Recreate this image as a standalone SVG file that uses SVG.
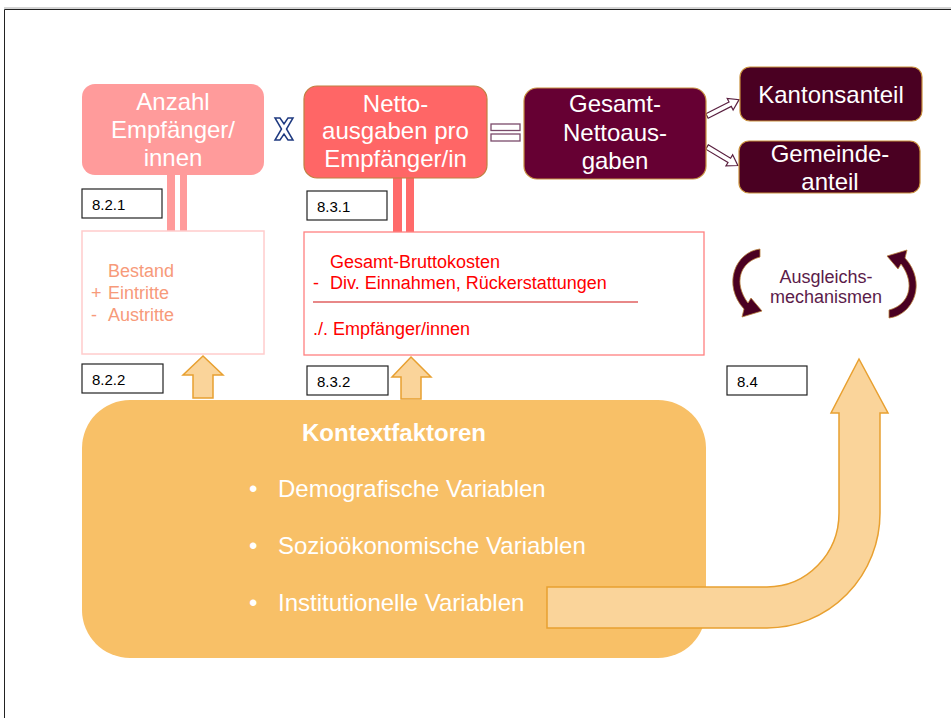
<svg xmlns="http://www.w3.org/2000/svg" width="951" height="718" viewBox="0 0 951 718">
<style>
.t{font-family:"Liberation Sans",Arial,sans-serif}
.w{fill:#fff;font-size:24px;text-anchor:middle}
.lab rect{fill:#fff;stroke:#222;stroke-width:1.2}
.lab text{font-size:15px;fill:#000}
.up{fill:#FAD49A;stroke:#E8A030;stroke-width:1.5}
.cur{fill:#4A0022;stroke:#B8803C;stroke-width:0.8}
.blk{fill:#fff;stroke:#5a2040;stroke-width:1.2}
</style>
<rect width="951" height="718" fill="#fff"/>
<line x1="4" y1="8" x2="951" y2="8" stroke="#aaa" stroke-width="1"/>
<path d="M4.5,718 V9.5 H951" fill="none" stroke="#222" stroke-width="1"/>

<g id="kontext">
<rect x="82" y="400" width="624" height="258" rx="48" ry="48" fill="#F8C067"/>
<text class="t" x="394" y="441" fill="#fff" font-size="24" font-weight="bold" text-anchor="middle">Kontextfaktoren</text>
<g class="t" fill="#fff" font-size="24">
<text x="249" y="497">•</text><text x="278" y="497">Demografische Variablen</text>
<text x="249" y="554">•</text><text x="278" y="554">Sozioökonomische Variablen</text>
<text x="249" y="611">•</text><text x="278" y="611">Institutionelle Variablen</text>
</g>
</g>

<g id="connectors">
<rect x="167" y="175" width="8" height="57" fill="#FF9B9B"/>
<rect x="180" y="175" width="7" height="57" fill="#FF9B9B"/>
<rect x="393" y="178" width="9" height="55" fill="#FF6A6A"/>
<rect x="406" y="178" width="8" height="55" fill="#FF6A6A"/>
<polygon class="up" points="203,356 223,375 213,375 213,398 193,398 193,375 183,375"/>
<polygon class="up" points="411,357 431,377 421,377 421,399 401,399 401,377 392,377"/>
<path class="up" d="M547,587 L767,587 A72,74 0 0 0 839,513 L839,413 L831,413 L859,359 L888,413 L880,413 L880,513 A113,115 0 0 1 767,628 L547,628 Z"/>
<polygon class="blk" transform="translate(707,116) rotate(-27)" points="0,-2.5 26,-2.5 26,-6.5 36,0 26,6.5 26,2.5 0,2.5"/>
<polygon class="blk" transform="translate(707,147) rotate(31)" points="0,-2.5 26,-2.5 26,-6.5 36,0 26,6.5 26,2.5 0,2.5"/>
<polygon points="275,118 280,118 284,124 288,118 293,118 286.5,129 293,140 288,140 284,134 280,140 275,140 281.5,129" fill="#fff" stroke="#1F3A80" stroke-width="1.5"/>
<rect x="491" y="124" width="29" height="6.5" fill="#fff" stroke="#7A4A6A" stroke-width="1.3"/>
<rect x="491" y="134" width="29" height="7" fill="#fff" stroke="#7A4A6A" stroke-width="1.3"/>
</g>

<g id="anzahl">
<rect x="82" y="84" width="182" height="91" rx="13" fill="#FF9B9B"/>
<text class="t w" x="173" y="110">Anzahl</text>
<text class="t w" x="173" y="138">Empfänger/</text>
<text class="t w" x="173" y="166">innen</text>
</g>

<g id="netto">
<rect x="304" y="86" width="183" height="92" rx="13" fill="#FF6666" stroke="#C08040" stroke-width="1.2"/>
<text class="t w" x="395.5" y="112">Netto-</text>
<text class="t w" x="395.5" y="139">ausgaben pro</text>
<text class="t w" x="395.5" y="167">Empfänger/in</text>
</g>

<g id="gesamt">
<rect x="524" y="88" width="182" height="91" rx="13" fill="#660033" stroke="#C89040" stroke-width="1.2"/>
<text class="t w" x="615" y="112">Gesamt-</text>
<text class="t w" x="615" y="141">Nettoaus-</text>
<text class="t w" x="615" y="169">gaben</text>
</g>

<g id="kanton">
<rect x="740" y="67" width="182" height="54" rx="10" fill="#4A0022" stroke="#C8903C" stroke-width="1.2"/>
<text class="t w" x="831" y="103">Kantonsanteil</text>
</g>

<g id="gemeinde">
<rect x="739" y="141" width="181" height="52" rx="10" fill="#4A0022" stroke="#C8903C" stroke-width="1.2"/>
<text class="t w" x="830" y="162">Gemeinde-</text>
<text class="t w" x="830" y="190">anteil</text>
</g>

<g id="bestand">
<rect x="82" y="231" width="182" height="123" fill="#fff" stroke="#FFCCCC" stroke-width="1.5"/>
<g class="t" fill="#F79A7A" font-size="18">
<text x="108" y="277">Bestand</text>
<text x="91" y="299">+</text><text x="108" y="299">Eintritte</text>
<text x="91" y="321">-</text><text x="108" y="321">Austritte</text>
</g>
</g>

<g id="brutto">
<rect x="304" y="232" width="400" height="123" fill="#fff" stroke="#FF8080" stroke-width="1.3"/>
<g class="t" fill="#FF0000" font-size="18">
<text x="330" y="268">Gesamt-Bruttokosten</text>
<text x="313" y="289">-</text><text x="330" y="289">Div. Einnahmen, Rückerstattungen</text>
<text x="313" y="335">./. Empfänger/innen</text>
</g>
<line x1="313" y1="302" x2="638" y2="302" stroke="#E06060" stroke-width="1.5"/>
</g>

<g id="ausgleich">
<path class="cur" d="M760,249 C735,252 722,285 744,309 L742,317 L762,311 L751,298 L748,303 C733,283 740,262 760,257 Z"/>
<path class="cur" transform="rotate(180 824.5 283.5)" d="M760,249 C735,252 722,285 744,309 L742,317 L762,311 L751,298 L748,303 C733,283 740,262 760,257 Z"/>
<text class="t" x="826" y="283" fill="#5B1C4A" font-size="18" text-anchor="middle">Ausgleichs-</text>
<text class="t" x="826" y="303" fill="#5B1C4A" font-size="18" text-anchor="middle">mechanismen</text>
</g>

<g id="l821" class="lab t"><rect x="82" y="189" width="80" height="29"/><text x="92" y="210">8.2.1</text></g>
<g id="l831" class="lab t"><rect x="307" y="191" width="80" height="29"/><text x="317" y="212">8.3.1</text></g>
<g id="l822" class="lab t"><rect x="82" y="364" width="81" height="29"/><text x="92" y="385">8.2.2</text></g>
<g id="l832" class="lab t"><rect x="307" y="366" width="81" height="29"/><text x="317" y="387">8.3.2</text></g>
<g id="l84" class="lab t"><rect x="727" y="366" width="80" height="29"/><text x="737" y="387">8.4</text></g>
</svg>
